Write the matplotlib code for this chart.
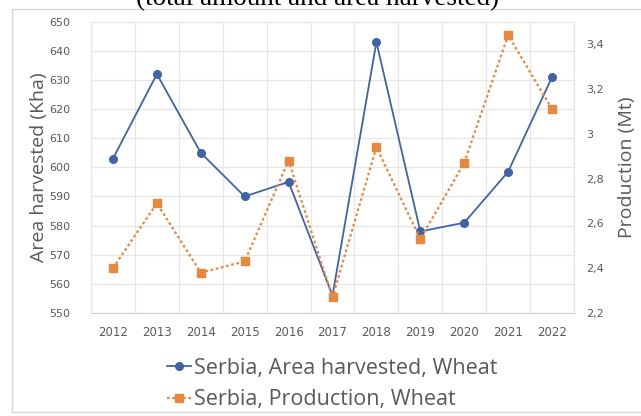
import numpy as np
import matplotlib.pyplot as plt
from matplotlib.patches import Rectangle
from matplotlib.ticker import FuncFormatter, MultipleLocator
from matplotlib.lines import Line2D

# Serbia wheat: area harvested (Kha) and production (Mt)
years = ['2012', '2013', '2014', '2015', '2016', '2017', '2018', '2019', '2020', '2021', '2022']
area_kha = [603, 632, 605, 590, 595, 556, 643, 578, 581, 598.5, 631]
production_mt = [2.40, 2.69, 2.38, 2.43, 2.88, 2.27, 2.94, 2.53, 2.87, 3.44, 3.11]

blue = '#4063A8'
orange = '#E8873E'
grey_txt = '#595959'
W, H = 641, 416

fig = plt.figure(figsize=(W / 100, H / 100), dpi=100)
ax = fig.add_axes([91 / W, 1 - 313 / H, (574 - 91) / W, (313 - 21.7) / H])
ax2 = ax.twinx()

# chart frame
fig.patches.append(Rectangle((12 / W, 1 - 412 / H), (W - 11) / W, 403 / H,
                             transform=fig.transFigure, fill=False,
                             edgecolor='#d9d9d9', linewidth=1.0))

# title line, mostly cut off at the top
fig.text(318 / W, 1 - 5.5 / H, '(total amount and area harvested)', ha='center', va='baseline',
         fontsize=19.5, family='Liberation Serif', color='black')

x = np.arange(len(years))
ax.plot(x, area_kha, color=blue, linewidth=1.3, marker='o', markersize=5.5, zorder=3)
ax2.plot(x, production_mt, color=orange, linewidth=1.6, linestyle=(0, (1.2, 1.2)),
         marker='s', markersize=5.5, zorder=3)

ax.set_xlim(-0.5, len(years) - 0.5)
ax.set_ylim(550, 650)
ax.yaxis.set_major_locator(MultipleLocator(10))
ax2.set_ylim(2.2, 3.5)
ax2.set_yticks([2.2, 2.4, 2.6, 2.8, 3.0, 3.2, 3.4])
ax2.yaxis.set_major_formatter(FuncFormatter(lambda v, p: f'{v:g}'.replace('.', ',')))

ax.set_xticks(x)
ax.set_xticklabels(years)
ax.set_xticks(np.arange(-0.5, len(years)), minor=True)
ax.grid(True, which='minor', axis='x', color='#e6e6e6', linewidth=0.9)
ax.grid(True, which='major', axis='y', color='#e6e6e6', linewidth=0.9)
ax.set_axisbelow(True)

for a in (ax, ax2):
    for s in a.spines.values():
        s.set_visible(False)
ax.spines['bottom'].set_visible(True)
ax.spines['bottom'].set_color('#d0d0d0')
ax.spines['left'].set_visible(True)
ax.spines['left'].set_color('#e6e6e6')
ax.spines['right'].set_visible(True)
ax.spines['right'].set_color('#e6e6e6')

ax.tick_params(axis='both', which='both', length=0, labelcolor=grey_txt)
ax.tick_params(axis='y', pad=15, labelsize=8)
ax.tick_params(axis='x', pad=9, labelsize=8.5)
ax2.tick_params(axis='y', length=0, labelsize=8, labelcolor=grey_txt, pad=9)

ax.set_ylabel('Area harvested (Kha)', fontsize=14, color=grey_txt, family='Open Sans', labelpad=1)
ax2.set_ylabel('Production (Mt)', fontsize=14, color=grey_txt, family='Open Sans', labelpad=10)

handles = [
    Line2D([], [], color=blue, linewidth=1.3, marker='o', markersize=5.5),
    Line2D([], [], color=orange, linewidth=1.6, linestyle=(0, (1.2, 1.2)), marker='s', markersize=5.5),
]
fig.legend(handles, ['Serbia, Area harvested, Wheat', 'Serbia, Production, Wheat'],
           loc='center', bbox_to_anchor=(332 / W, 1 - 384 / H), frameon=False,
           prop={'family': 'Open Sans', 'size': 15.5}, labelcolor=grey_txt,
           handlelength=1.1, handletextpad=0.15, labelspacing=0.5, alignment='left')

fig.savefig('out.png', dpi=100)
